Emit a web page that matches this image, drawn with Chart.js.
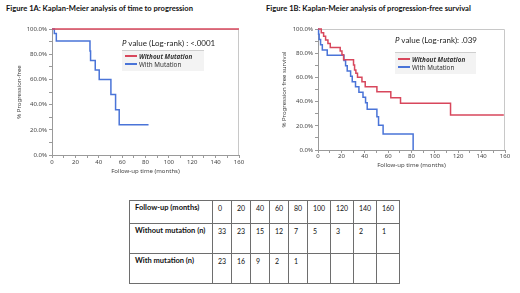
<!DOCTYPE html>
<html>
<head>
<meta charset="utf-8">
<script src="https://cdn.jsdelivr.net/npm/chart.js@4"></script>
<style>
body{margin:0;width:520px;height:293px;position:relative;overflow:hidden;background:#fff;font-family:Lato,"Liberation Sans",sans-serif;color:#111}
.ttl{position:absolute;top:4px;font-weight:bold;font-size:7.6px;line-height:9px;white-space:nowrap}
.wrap{position:absolute}
.pval{position:absolute;font-size:8px;line-height:10px;white-space:nowrap;color:#222}
.lgd{position:absolute;background:#f3f3f3;border-top:1px solid #cfcfcf}
.item{position:absolute;left:3px;font-family:"Noto Sans",sans-serif;font-size:6.3px;line-height:8px;white-space:nowrap;color:#333}
.sw{display:inline-block;width:12px;height:2px;vertical-align:middle;margin-right:2px;position:relative;top:-1px}
table{position:absolute;left:129px;top:200px;width:270px;border-collapse:collapse;table-layout:fixed;font-size:7px}
td{border:1.5px solid #6e6e6e;vertical-align:top;padding:3px 0 0 5px;line-height:8px;white-space:nowrap}
td.h{font-weight:bold;font-size:7.5px;padding-left:5px}
</style>
</head>
<body>
<div class="ttl" style="left:6px">Figure 1A: Kaplan-Meier analysis of time to progression</div>
<div class="ttl" style="left:266px">Figure 1B: Kaplan-Meier analysis of progression-free survival</div>

<div class="wrap" style="left:0;top:0;width:258px;height:180px"><canvas id="c1"></canvas></div>
<div class="wrap" style="left:262px;top:0;width:258px;height:170px"><canvas id="c2"></canvas></div>

<div class="pval" style="left:122px;top:38px"><i>P</i> value (Log-rank) : &lt;.0001</div>
<div class="lgd" style="left:122px;top:50px;width:82px;height:20px">
  <div class="item" style="top:2px"><span class="sw" style="background:#d8475c"></span><b><em>Without Mutation</em></b></div>
  <div class="item" style="top:10px"><span class="sw" style="background:#4a74d8"></span>With Mutation</div>
</div>

<div class="pval" style="left:395px;top:35px"><i>P</i> value (Log-rank): .039</div>
<div class="lgd" style="left:395px;top:52px;width:81px;height:21px">
  <div class="item" style="top:3px"><span class="sw" style="background:#d8475c"></span><b><em>Without Mutation</em></b></div>
  <div class="item" style="top:11px"><span class="sw" style="background:#4a74d8"></span>With Mutation</div>
</div>

<table id="risk"></table>

<script>
// Figure 1A: time to progression
const t1aNo = [0, 160];
const s1aNo = [100, 100];
const t1aMut = [0, 2, 3.7, 32.5, 33, 37, 40.4, 50.4, 54.4, 57.5, 82.6];
const s1aMut = [100, 96.5, 90.5, 82.5, 75, 67.5, 60, 48, 36, 24, 24];

// Figure 1B: progression-free survival
const t1bNo = [0, 2.8, 4.8, 6.5, 8.5, 10.5, 19, 20.5, 21.9, 30.4, 31.3, 32.4, 33.8, 37.6, 40.4, 50.4, 62.3, 70.6, 113.4, 159];
const s1bNo = [100, 97, 94, 91, 88, 84.8, 81.8, 78.8, 74.5, 70.2, 66.1, 63.4, 60.1, 56.5, 52.3, 48.2, 43.2, 38.6, 28.9, 28.9];
const t1bMut = [0, 0.5, 1, 2.2, 3.7, 7.9, 22.2, 23.6, 25, 27.9, 29.3, 32.1, 35, 38.5, 40.7, 42.1, 50.4, 51.8, 55.7, 81.4];
const s1bMut = [100, 95.7, 91.3, 87, 82.6, 78.3, 73.9, 69.6, 65.2, 60.9, 56.5, 52.2, 47.8, 43.5, 39.1, 33.6, 27.5, 20.5, 13.2, 0];

// numbers at risk
const followUp = [0, 20, 40, 60, 80, 100, 120, 140, 160];
const riskNo = [33, 23, 15, 12, 7, 5, 3, 2, 1];
const riskMut = [23, 16, 9, 2, 1, '', '', '', ''];

const RED = '#d8475c', BLUE = '#4a74d8';

function pts(t, s) { return t.map((x, i) => ({x: x, y: s[i]})); }

const frame = {
  id: 'frame',
  beforeDatasetsDraw(chart) {
    const a = chart.chartArea, ctx = chart.ctx;
    ctx.save();
    ctx.strokeStyle = '#c8c8c8';
    ctx.lineWidth = 1;
    ctx.beginPath();
    ctx.moveTo(a.left, a.top + 0.5); ctx.lineTo(a.right - 0.5, a.top + 0.5); ctx.lineTo(a.right - 0.5, a.bottom);
    ctx.stroke();
    ctx.restore();
  }
};

function km(id, no, mut, yTitle, o) {
  new Chart(document.getElementById(id), {
    type: 'line',
    data: {
      datasets: [
        {label: 'Without Mutation', data: no, borderColor: RED, borderWidth: 1.5, stepped: true, pointRadius: 0, fill: false, clip: false},
        {label: 'With Mutation', data: mut, borderColor: BLUE, borderWidth: 1.5, stepped: true, pointRadius: 0, fill: false, clip: false}
      ]
    },
    options: {
      responsive: true,
      maintainAspectRatio: false,
      animation: false,
      layout: {padding: {top: 29, right: o.right, left: 0, bottom: 0}},
      plugins: {legend: {display: false}, tooltip: {enabled: false}},
      scales: {
        x: {
          type: 'linear', min: 0, max: 160,
          afterFit: s => { s.height = o.xh; },
          border: {color: '#9a9a9a'},
          grid: {drawOnChartArea: false, tickLength: 3, color: '#9a9a9a'},
          ticks: {stepSize: 10, padding: o.xpad, color: '#444', font: {family: 'Noto Sans', size: 6},
                  maxRotation: 0, minRotation: 0, autoSkip: false,
                  callback: v => v % 20 === 0 ? v : ''},
          title: {display: true, text: 'Follow-up time (months)', color: '#444',
                  font: {family: 'Noto Sans', size: 6}, padding: {top: 0, bottom: o.tb}}
        },
        y: {
          min: 0, max: 100,
          afterFit: s => { s.width = o.yw; },
          border: {color: '#9a9a9a'},
          grid: {drawOnChartArea: false, tickLength: 3, color: '#9a9a9a'},
          ticks: {stepSize: 10, padding: 2, color: '#444', font: {family: 'Noto Sans', size: 6},
                  autoSkip: false,
                  callback: v => v % 20 === 0 ? v.toFixed(1) + '%' : ''},
          title: {display: true, text: yTitle, color: '#444',
                  font: {family: 'Noto Sans', size: 6}, padding: {top: o.yt, bottom: 0}}
        }
      }
    },
    plugins: [frame]
  });
}

km('c1', pts(t1aNo, s1aNo), pts(t1aMut, s1aMut), '% Progression-free',
   {right: 19, xh: 25, xpad: 1, tb: 5, yw: 52, yt: 16});
km('c2', pts(t1bNo, s1bNo), pts(t1bMut, s1bMut), '% Progression free survival',
   {right: 15, xh: 20, xpad: 0, tb: 1.5, yw: 56, yt: 19});

// at-risk table
const rows = [['Follow-up (months)', followUp], ['Without mutation (n)', riskNo], ['With mutation (n)', riskMut]];
const heights = [23, 30, 30];
const widths = [83, 19, 19, 19, 19, 19, 23, 23, 23, 23];
let html = '<colgroup>' + widths.map(w => '<col style="width:' + w + 'px">').join('') + '</colgroup>';
rows.forEach((r, i) => {
  html += '<tr style="height:' + heights[i] + 'px"><td class="h">' + r[0] + '</td>' +
          r[1].map(v => '<td>' + v + '</td>').join('') + '</tr>';
});
document.getElementById('risk').innerHTML = html;
</script>
</body>
</html>
